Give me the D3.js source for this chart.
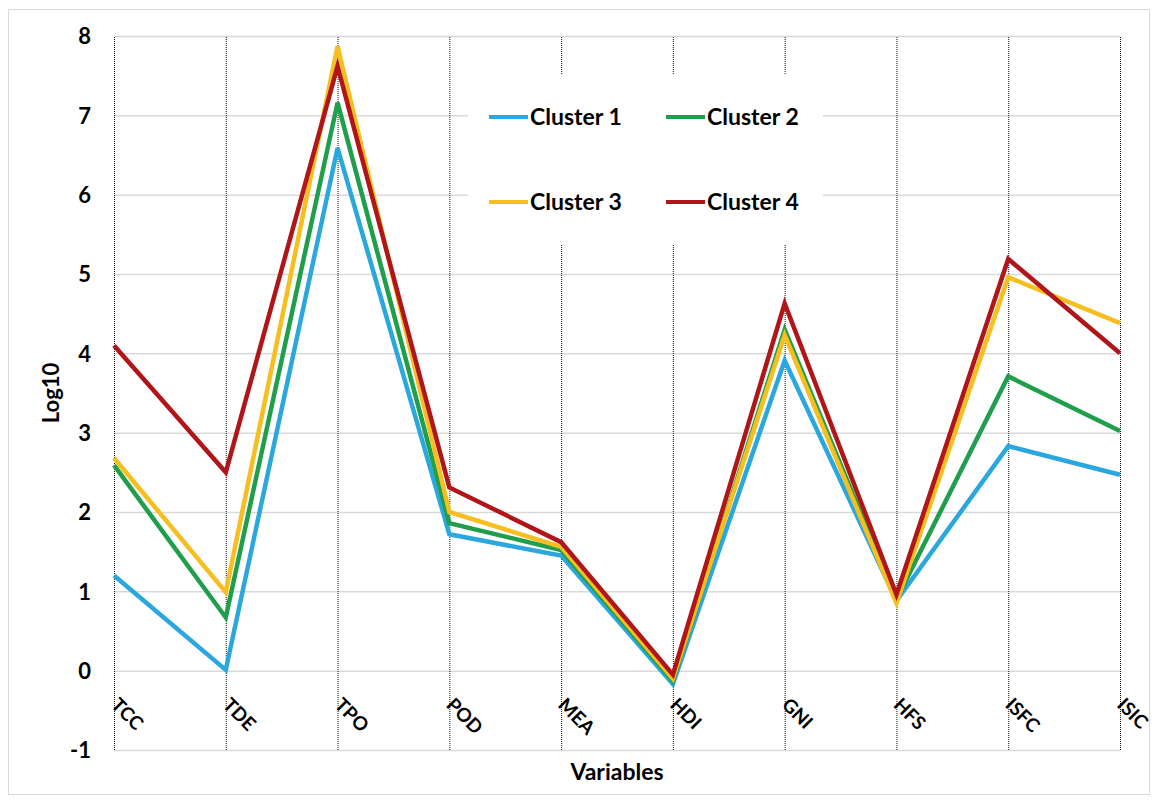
<!DOCTYPE html>
<html>
<head>
<meta charset="utf-8">
<script src="https://cdn.jsdelivr.net/npm/d3@7"></script>
<style>
  body { margin: 0; background: #ffffff; }
  text { font-family: Lato, "Open Sans", sans-serif; font-weight: bold; fill: #000; }
</style>
</head>
<body>
<script>
var w = 1157; // Width of the page
var h = 802;  // Height of the page

// Chart data
var variables = ["TCC", "TDE", "TPO", "POD", "MEA", "HDI", "GNI", "HFS", "ISFC", "ISIC"];
var clusterNames = ["Cluster 1", "Cluster 2", "Cluster 3", "Cluster 4"];
var cluster1 = [1.20, 0.01, 6.59, 1.72, 1.45, -0.17, 3.91, 0.88, 2.83, 2.47];
var cluster2 = [2.59, 0.67, 7.16, 1.86, 1.52, -0.13, 4.30, 0.90, 3.71, 3.02];
var cluster3 = [2.68, 0.99, 7.87, 2.00, 1.56, -0.10, 4.23, 0.85, 4.96, 4.38];
var cluster4 = [4.10, 2.50, 7.62, 2.31, 1.62, -0.05, 4.63, 0.96, 5.19, 4.00];
var yTicks = [-1, 0, 1, 2, 3, 4, 5, 6, 7, 8];

var series = [cluster1, cluster2, cluster3, cluster4];
var colors = ["#2aa8de", "#1f9e4b", "#f6be1e", "#b0151a"];

// Plot area (names avoid clashing with window.top)
var plotLeft = 114, plotRight = 1120, plotTop = 36, plotBottom = 750;

var xScale = d3.scalePoint()
    .domain(variables)
    .range([plotLeft, plotRight]);

var yScale = d3.scaleLinear()
    .domain([-1, 8])
    .range([plotBottom, plotTop]);

var svg = d3.select("body")
    .append("svg")
    .attr("width", w)
    .attr("height", h);

// Outer border of the chart
svg.append("rect")
    .attr("x", 8.5)
    .attr("y", 9.5)
    .attr("width", 1141)
    .attr("height", 785)
    .attr("fill", "#fff")
    .attr("stroke", "#d9d9d9")
    .attr("stroke-width", 1);

// Horizontal gridlines
var yGrid = svg.append("g")
    .attr("transform", "translate(" + plotLeft + ",0)")
    .call(d3.axisLeft(yScale).tickValues(yTicks).tickSize(-(plotRight - plotLeft)).tickFormat(""));
yGrid.select(".domain").remove();
yGrid.selectAll("line")
    .attr("stroke", "#d9d9d9")
    .attr("stroke-width", 1.5);

// Vertical dotted lines, one per variable
var xGrid = svg.append("g")
    .attr("transform", "translate(0," + plotBottom + ")")
    .call(d3.axisBottom(xScale).tickSize(-(plotBottom - plotTop)).tickFormat(""));
xGrid.select(".domain").remove();
xGrid.selectAll("line")
    .attr("stroke", "#111")
    .attr("stroke-width", 1)
    .attr("stroke-dasharray", "1,1");

// Y tick labels (plain hyphen for the negative value, as in the original)
var yAxis = svg.append("g")
    .attr("transform", "translate(" + (plotLeft - 23) + ",0)")
    .call(d3.axisLeft(yScale).tickValues(yTicks).tickSize(0).tickPadding(0)
        .tickFormat(function(d) { return String(d); }));
yAxis.select(".domain").remove();
yAxis.selectAll("text")
    .style("font-size", "22px")
    .attr("dy", "0.36em");

// Rotated x labels
svg.append("g")
    .selectAll("text")
    .data(variables)
    .join("text")
    .attr("transform", function(d) {
        return "translate(" + (xScale(d) - 4) + ",706) rotate(45)";
    })
    .style("font-size", "19px")
    .text(function(d) { return d; });

// Lines
var line = d3.line()
    .x(function(d, i) { return xScale(variables[i]); })
    .y(function(d) { return yScale(d); });

svg.append("g")
    .selectAll("path")
    .data(series)
    .join("path")
    .attr("d", line)
    .attr("fill", "none")
    .attr("stroke", function(d, i) { return colors[i]; })
    .attr("stroke-width", 4.5)
    .attr("stroke-linejoin", "miter");

// Legend with white background
var legend = svg.append("g");
legend.append("rect")
    .attr("x", 468)
    .attr("y", 74)
    .attr("width", 355)
    .attr("height", 171)
    .attr("fill", "#fff");

var legendItems = legend.selectAll("g")
    .data(clusterNames)
    .join("g")
    .attr("transform", function(d, i) {
        return "translate(" + (489 + (i % 2) * 177) + "," + (117 + Math.floor(i / 2) * 85) + ")";
    });

legendItems.append("line")
    .attr("x1", 0)
    .attr("x2", 39)
    .attr("stroke", function(d, i) { return colors[i]; })
    .attr("stroke-width", 4);

legendItems.append("text")
    .attr("x", 41)
    .attr("dy", "0.36em")
    .style("font-size", "23px")
    .text(function(d) { return d; });

// Axis titles
svg.append("text")
    .attr("text-anchor", "middle")
    .attr("x", (plotLeft + plotRight) / 2)
    .attr("y", 780)
    .style("font-size", "23px")
    .text("Variables");

svg.append("text")
    .attr("text-anchor", "middle")
    .attr("transform", "translate(59," + ((plotTop + plotBottom) / 2) + ") rotate(-90)")
    .style("font-size", "22px")
    .text("Log10");
</script>
</body>
</html>
